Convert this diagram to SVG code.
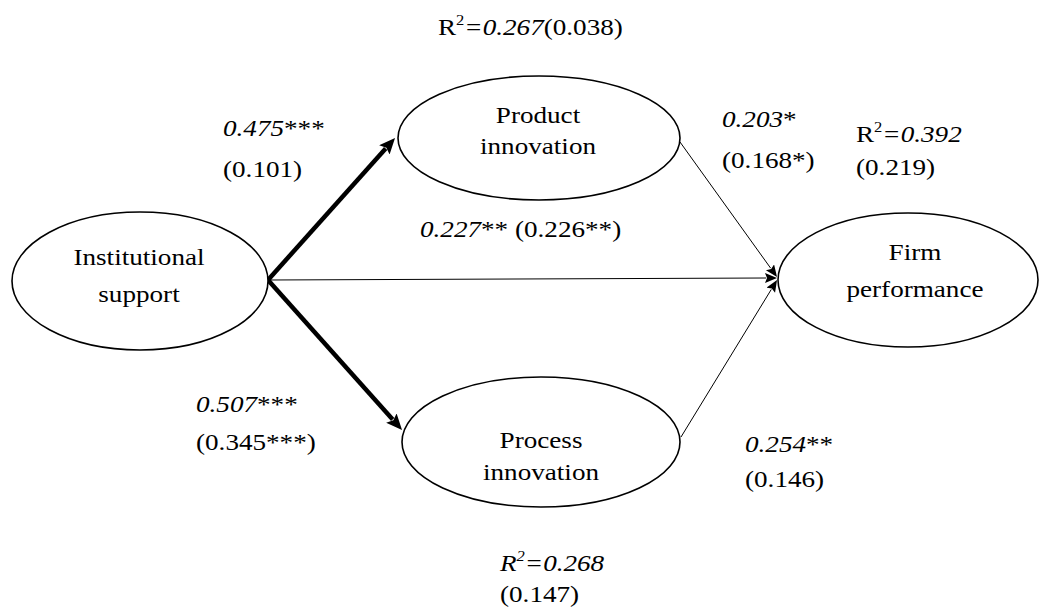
<svg xmlns="http://www.w3.org/2000/svg" width="1041" height="611" viewBox="0 0 1041 611">
<style>
.node{fill:#fff;stroke:#000;stroke-width:1.6}
text{font-family:"Liberation Serif","Times New Roman",serif;font-size:23px;fill:#000}
.c{text-anchor:middle}
.i{font-style:italic}
.thick{stroke:#000;stroke-width:4.5;fill:none}
.thin{stroke:#000;stroke-width:1;fill:none}
</style>
<defs>
<marker id="ah" markerUnits="userSpaceOnUse" markerWidth="18" markerHeight="16" refX="2" refY="7" orient="auto">
<path d="M0,0 L16,7 L0,14 L3,7 z" fill="#000"/>
</marker>
<marker id="as" markerUnits="userSpaceOnUse" markerWidth="14" markerHeight="12" refX="1" refY="5" orient="auto">
<path d="M0,0 L12,5 L0,10 L2,5 z" fill="#000"/>
</marker>
</defs>
<rect width="1041" height="611" fill="#fff"/>
<g id="connectors">
<path class="thick" d="M268,280 L385.7,148.4" marker-end="url(#ah)"/>
<path class="thick" d="M268,280 L392.7,419.6" marker-end="url(#ah)"/>
<path class="thin" d="M268,280 L766,278" marker-end="url(#as)"/>
<path class="thin" d="M680,142 L770.6,268.1" marker-end="url(#as)"/>
<path class="thin" d="M681,437 L771.3,289.4" marker-end="url(#as)"/>
</g>
<g id="institutional-support">
<ellipse class="node" cx="140" cy="281" rx="128" ry="69"/>
<text class="c" transform="translate(139,265) scale(1.18,1)">Institutional</text>
<text class="c" transform="translate(139,302) scale(1.18,1)">support</text>
</g>
<g id="product-innovation">
<ellipse class="node" cx="539" cy="138" rx="141" ry="62"/>
<text class="c" transform="translate(538,123) scale(1.18,1)">Product</text>
<text class="c" transform="translate(538,154) scale(1.18,1)">innovation</text>
</g>
<g id="process-innovation">
<ellipse class="node" cx="541" cy="442" rx="139" ry="65"/>
<text class="c" transform="translate(541,448) scale(1.18,1)">Process</text>
<text class="c" transform="translate(541,480) scale(1.18,1)">innovation</text>
</g>
<g id="firm-performance">
<ellipse class="node" cx="908" cy="280" rx="130" ry="67"/>
<text class="c" transform="translate(915,260) scale(1.18,1)">Firm</text>
<text class="c" transform="translate(915,297) scale(1.18,1)">performance</text>
</g>
<g id="labels">
<text transform="translate(438,35) scale(1.18,1)">R<tspan font-size="14" dy="-10">2</tspan><tspan dy="10" class="i">=0.267</tspan>(0.038)</text>
<text transform="translate(223,136) scale(1.18,1)"><tspan class="i">0.475</tspan>***</text>
<text transform="translate(223,177) scale(1.18,1)">(0.101)</text>
<text transform="translate(722,127) scale(1.18,1)"><tspan class="i">0.203</tspan>*</text>
<text transform="translate(722,168) scale(1.18,1)">(0.168*)</text>
<text transform="translate(856,142) scale(1.18,1)">R<tspan font-size="14" dy="-10">2</tspan><tspan dy="10" class="i">=0.392</tspan></text>
<text transform="translate(856,175) scale(1.18,1)">(0.219)</text>
<text transform="translate(420,237) scale(1.18,1)"><tspan class="i">0.227</tspan>** (0.226**)</text>
<text transform="translate(196,412) scale(1.18,1)"><tspan class="i">0.507</tspan>***</text>
<text transform="translate(196,450) scale(1.18,1)">(0.345***)</text>
<text transform="translate(745,452) scale(1.18,1)"><tspan class="i">0.254</tspan>**</text>
<text transform="translate(745,487) scale(1.18,1)">(0.146)</text>
<text class="i" transform="translate(500,571) scale(1.18,1)">R<tspan font-size="14" dy="-10">2</tspan><tspan dy="10">=0.268</tspan></text>
<text transform="translate(500,602) scale(1.18,1)">(0.147)</text>
</g>
</svg>
